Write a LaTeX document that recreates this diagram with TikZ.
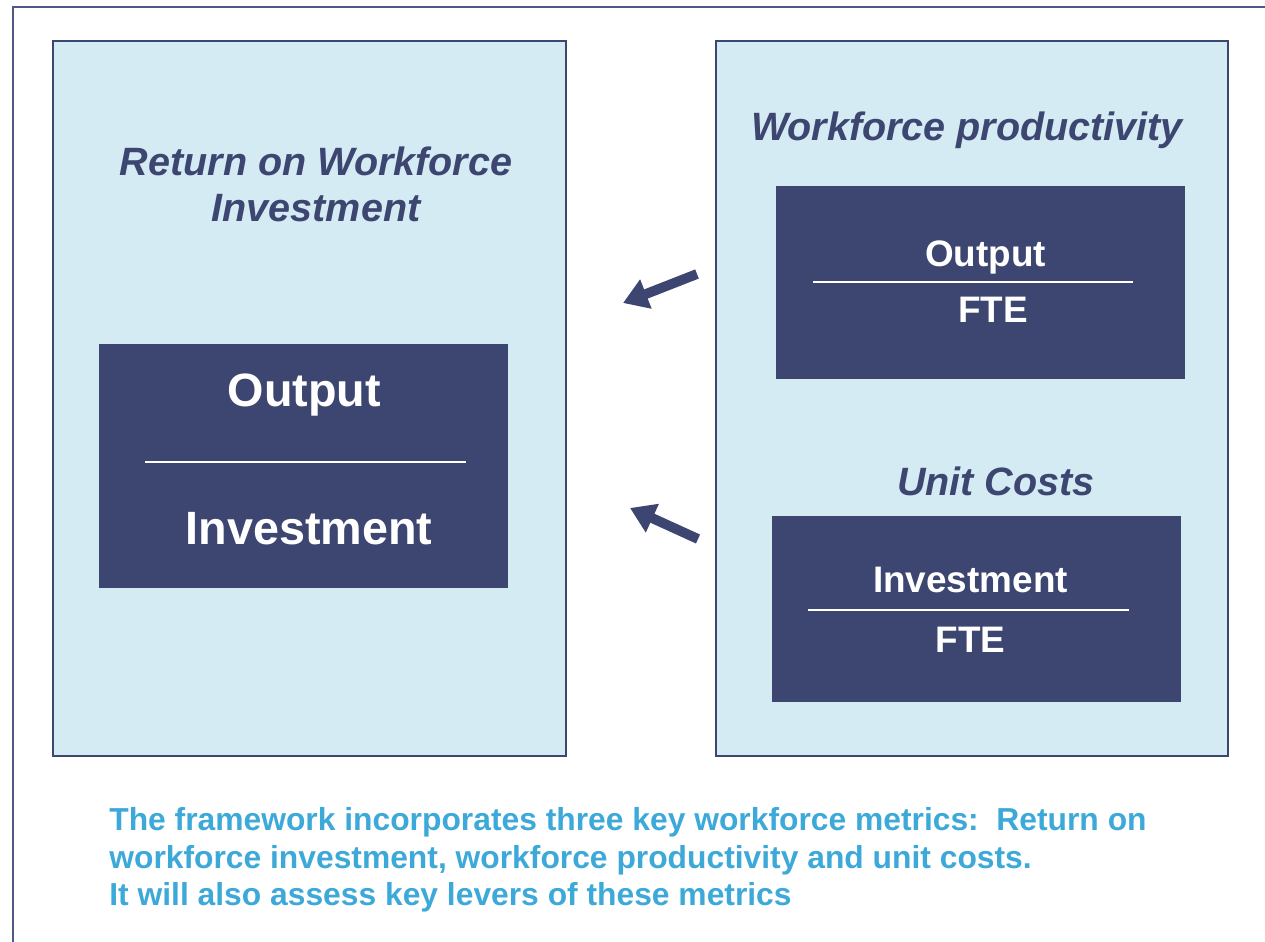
\documentclass[tikz,border=0pt]{standalone}
\usepackage{fontspec}
\setmainfont{Liberation Sans}
\usetikzlibrary{arrows.meta}

\definecolor{navy}{HTML}{3C4670}
\definecolor{framecol}{HTML}{4F5983}
\definecolor{panelfill}{HTML}{D5EBF4}
\definecolor{notecol}{HTML}{3DA9D9}

\tikzset{
  panel/.style={draw=navy, line width=1.1pt, fill=panelfill},
  darkbox/.style={fill=navy},
  rule/.style={draw=white, line width=1.2pt},
  heading/.style={anchor=base, inner sep=0pt, text=navy,
    font=\fontsize{22.5}{26}\selectfont\bfseries\itshape},
  bigterm/.style={anchor=base, inner sep=0pt, text=white,
    font=\fontsize{26.6}{30}\selectfont\bfseries},
  term/.style={anchor=base, inner sep=0pt, text=white,
    font=\fontsize{21}{25}\selectfont\bfseries},
  note/.style={anchor=base west, inner sep=0pt, text=notecol,
    font=\fontsize{18.1}{21.5}\selectfont\bfseries},
  lever/.style={draw=navy, line width=5.6pt,
    -{Triangle[length=14pt, width=17pt]}}
}

\begin{document}
\begin{tikzpicture}[x=0.02cm, y=-0.02cm]
  \useasboundingbox (0,0) rectangle (1265,942);

  % outer frame, open to the right and bottom
  \draw[framecol, line width=1.1pt] (13.3,942) -- (13.3,7.3) -- (1265,7.3);

  % two panels
  \path[panel] (53.3,41.3) rectangle (566,756);
  \path[panel] (716,41.3) rectangle (1228,756);

  % left panel: return on workforce investment
  \node[heading] (rtitleA) at (316,176) {Return on Workforce};
  \node[heading] (rtitleB) at (316,222) {Investment};
  \path[darkbox] (99,344) rectangle (508,588);
  \node[bigterm] (rnum) at (304.5,407) {Output};
  \draw[rule] (145,462) -- (466,462);
  \node[bigterm] (rden) at (309,544) {Investment};

  % right panel: workforce productivity
  \node[heading] (ptitle) at (967,141) {Workforce productivity};
  \path[darkbox] (776,186) rectangle (1185,379);
  \node[term] (pnum) at (985.5,267) {Output};
  \draw[rule] (813,282) -- (1133,282);
  \node[term] (pden) at (993,323) {FTE};

  % right panel: unit costs
  \node[heading] (utitle) at (996,496) {Unit Costs};
  \path[darkbox] (772,516) rectangle (1181,702);
  \node[term] (unum) at (970.5,592) {Investment};
  \draw[rule] (808,610) -- (1129,610);
  \node[term] (uden) at (970.5,652) {FTE};

  % arrows towards the left panel
  \coordinate (a1tail) at (697,274);
  \coordinate (a1tip) at (623,303);
  \coordinate (a2tail) at (698,539);
  \coordinate (a2tip) at (630,508);
  \draw[lever] (a1tail) -- (a1tip);
  \draw[lever] (a2tail) -- (a2tip);

  % closing note
  \node[note] (noteA) at (109,830) {The framework incorporates three key workforce metrics:\ \ Return on};
  \node[note] (noteB) at (109,868) {workforce investment, workforce productivity and unit costs.};
  \node[note] (noteC) at (109,905) {It will also assess key levers of these metrics};
\end{tikzpicture}
\end{document}
